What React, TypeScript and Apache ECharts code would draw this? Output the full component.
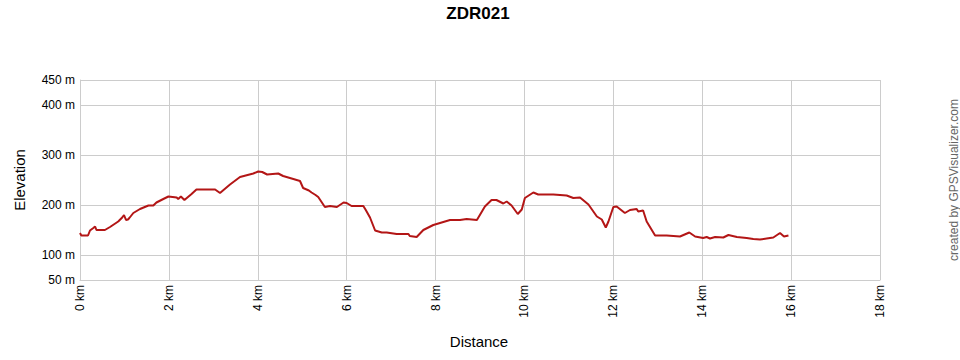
import React, { useEffect, useRef } from "react";
import * as echarts from "echarts";

const distanceKm = [
  0.0, 0.03, 0.18, 0.225, 0.3, 0.34, 0.37, 0.56, 0.675, 0.86, 0.95, 0.99, 1.035, 1.08, 1.11, 1.2, 1.35, 1.54, 1.65, 1.72,
  1.875, 1.99, 2.175, 2.21, 2.27, 2.35, 2.51, 2.62, 3.04, 3.15, 3.375, 3.6, 3.9, 4.01, 4.1, 4.21, 4.46, 4.57, 4.8, 4.95,
  5.02, 5.15, 5.21, 5.3, 5.36, 5.51, 5.625, 5.78, 5.93, 6.0, 6.11, 6.375, 6.43, 6.525, 6.64, 6.79, 6.9, 7.125, 7.39, 7.42,
  7.575, 7.725, 7.95, 8.1, 8.325, 8.55, 8.7, 8.93, 9.11, 9.26, 9.37, 9.525, 9.6, 9.71, 9.85, 9.94, 10.01, 10.2, 10.31, 10.65,
  10.95, 11.1, 11.25, 11.44, 11.63, 11.74, 11.83, 11.89, 12.0, 12.075, 12.26, 12.375, 12.525, 12.56, 12.67, 12.75, 12.94, 13.2, 13.5, 13.71,
  13.84, 14.02, 14.1, 14.175, 14.29, 14.475, 14.59, 14.78, 15.0, 15.15, 15.3, 15.45, 15.6, 15.75, 15.84, 15.94,
];

const elevationM = [
  144, 139, 139, 149, 154, 157, 150, 150, 156, 167, 175, 180, 170, 171, 174, 184, 192, 199, 199, 205,
  212, 217, 215, 212, 217, 210, 222, 231, 231, 224, 241, 256, 263, 267, 266, 261, 263, 258, 252, 248,
  234, 229, 225, 220, 216, 196, 198, 196, 205, 204, 198, 198, 190, 175, 149, 145, 145, 142, 142, 138,
  136, 150, 160, 164, 170, 170, 172, 170, 197, 210, 210, 203, 207, 199, 182, 191, 214, 225, 221, 221,
  219, 214, 215, 201, 177, 171, 155, 167, 196, 197, 184, 190, 192, 187, 189, 167, 139, 139, 137, 145,
  137, 134, 136, 133, 136, 135, 140, 136, 134, 132, 131, 133, 135, 144, 137, 139,
];

const yLabelValues = [50, 100, 200, 300, 400, 450];
const yGridValues = [100, 200, 300, 400, 450];

const titleText = "ZDR021";
const xName = "Distance";
const yName = "Elevation";
const creditText = "created by GPSVisualizer.com";

const FONT = "'Liberation Sans', Arial, Helvetica, sans-serif";
const GRID_COLOR = "#cccccc";

export default function App() {
  const ref = useRef<HTMLDivElement>(null);

  useEffect(() => {
    if (!ref.current) return;
    const chart = echarts.init(ref.current, null, { renderer: "svg" });
    const data = distanceKm.map((d, i) => [d, elevationM[i]]);

    chart.setOption({
      animation: false,
      backgroundColor: "#ffffff",
      textStyle: { fontFamily: FONT },
      grid: { left: 80, right: 80, top: 80, height: 200, containLabel: false },
      xAxis: {
        type: "value",
        min: 0,
        max: 18,
        interval: 2,
        axisLine: { show: true, lineStyle: { color: GRID_COLOR, width: 1 } },
        axisTick: { show: false },
        splitLine: { show: true, lineStyle: { color: GRID_COLOR, width: 1 } },
        axisLabel: {
          rotate: 90,
          margin: 5,
          color: "#000",
          fontSize: 12,
          fontFamily: FONT,
          formatter: (v: number) => `${v} km`,
        },
      },
      yAxis: {
        type: "value",
        min: 50,
        max: 450,
        interval: 50,
        axisLine: { show: true, lineStyle: { color: GRID_COLOR, width: 1 } },
        axisTick: { show: false },
        splitLine: { show: false },
        axisLabel: {
          margin: 5,
          color: "#000",
          fontSize: 12,
          fontFamily: FONT,
          formatter: (v: number) => (yLabelValues.includes(v) ? `${v} m` : ""),
        },
      },
      series: [
        {
          type: "line",
          data: [],
          z: 1,
          silent: true,
          markLine: {
            silent: true,
            symbol: "none",
            label: { show: false },
            lineStyle: { color: GRID_COLOR, type: "solid", width: 1 },
            data: yGridValues.map((v) => ({ yAxis: v })),
          },
        },
        {
          type: "line",
          data,
          z: 5,
          showSymbol: false,
          symbol: "none",
          lineStyle: { color: "#b31616", width: 2 },
          itemStyle: { color: "#b31616" },
        },
      ],
      graphic: [
        {
          type: "text",
          x: 478,
          y: 13,
          style: {
            text: titleText,
            font: `bold 17px ${FONT}`,
            fill: "#000",
            align: "center",
            verticalAlign: "middle",
          },
        },
        {
          type: "text",
          x: 479,
          y: 341,
          style: {
            text: xName,
            font: `15px ${FONT}`,
            fill: "#000",
            align: "center",
            verticalAlign: "middle",
          },
        },
        {
          type: "text",
          x: 19,
          y: 180,
          rotation: Math.PI / 2,
          style: {
            text: yName,
            font: `15px ${FONT}`,
            fill: "#000",
            align: "center",
            verticalAlign: "middle",
          },
        },
        {
          type: "text",
          x: 954,
          y: 180,
          rotation: Math.PI / 2,
          style: {
            text: creditText,
            font: `12px ${FONT}`,
            fill: "#666",
            align: "center",
            verticalAlign: "middle",
          },
        },
      ],
    });

    return () => chart.dispose();
  }, []);

  return (
    <div
      ref={ref}
      style={{ position: "fixed", left: 0, top: 0, width: 960, height: 360, background: "#fff" }}
    />
  );
}
